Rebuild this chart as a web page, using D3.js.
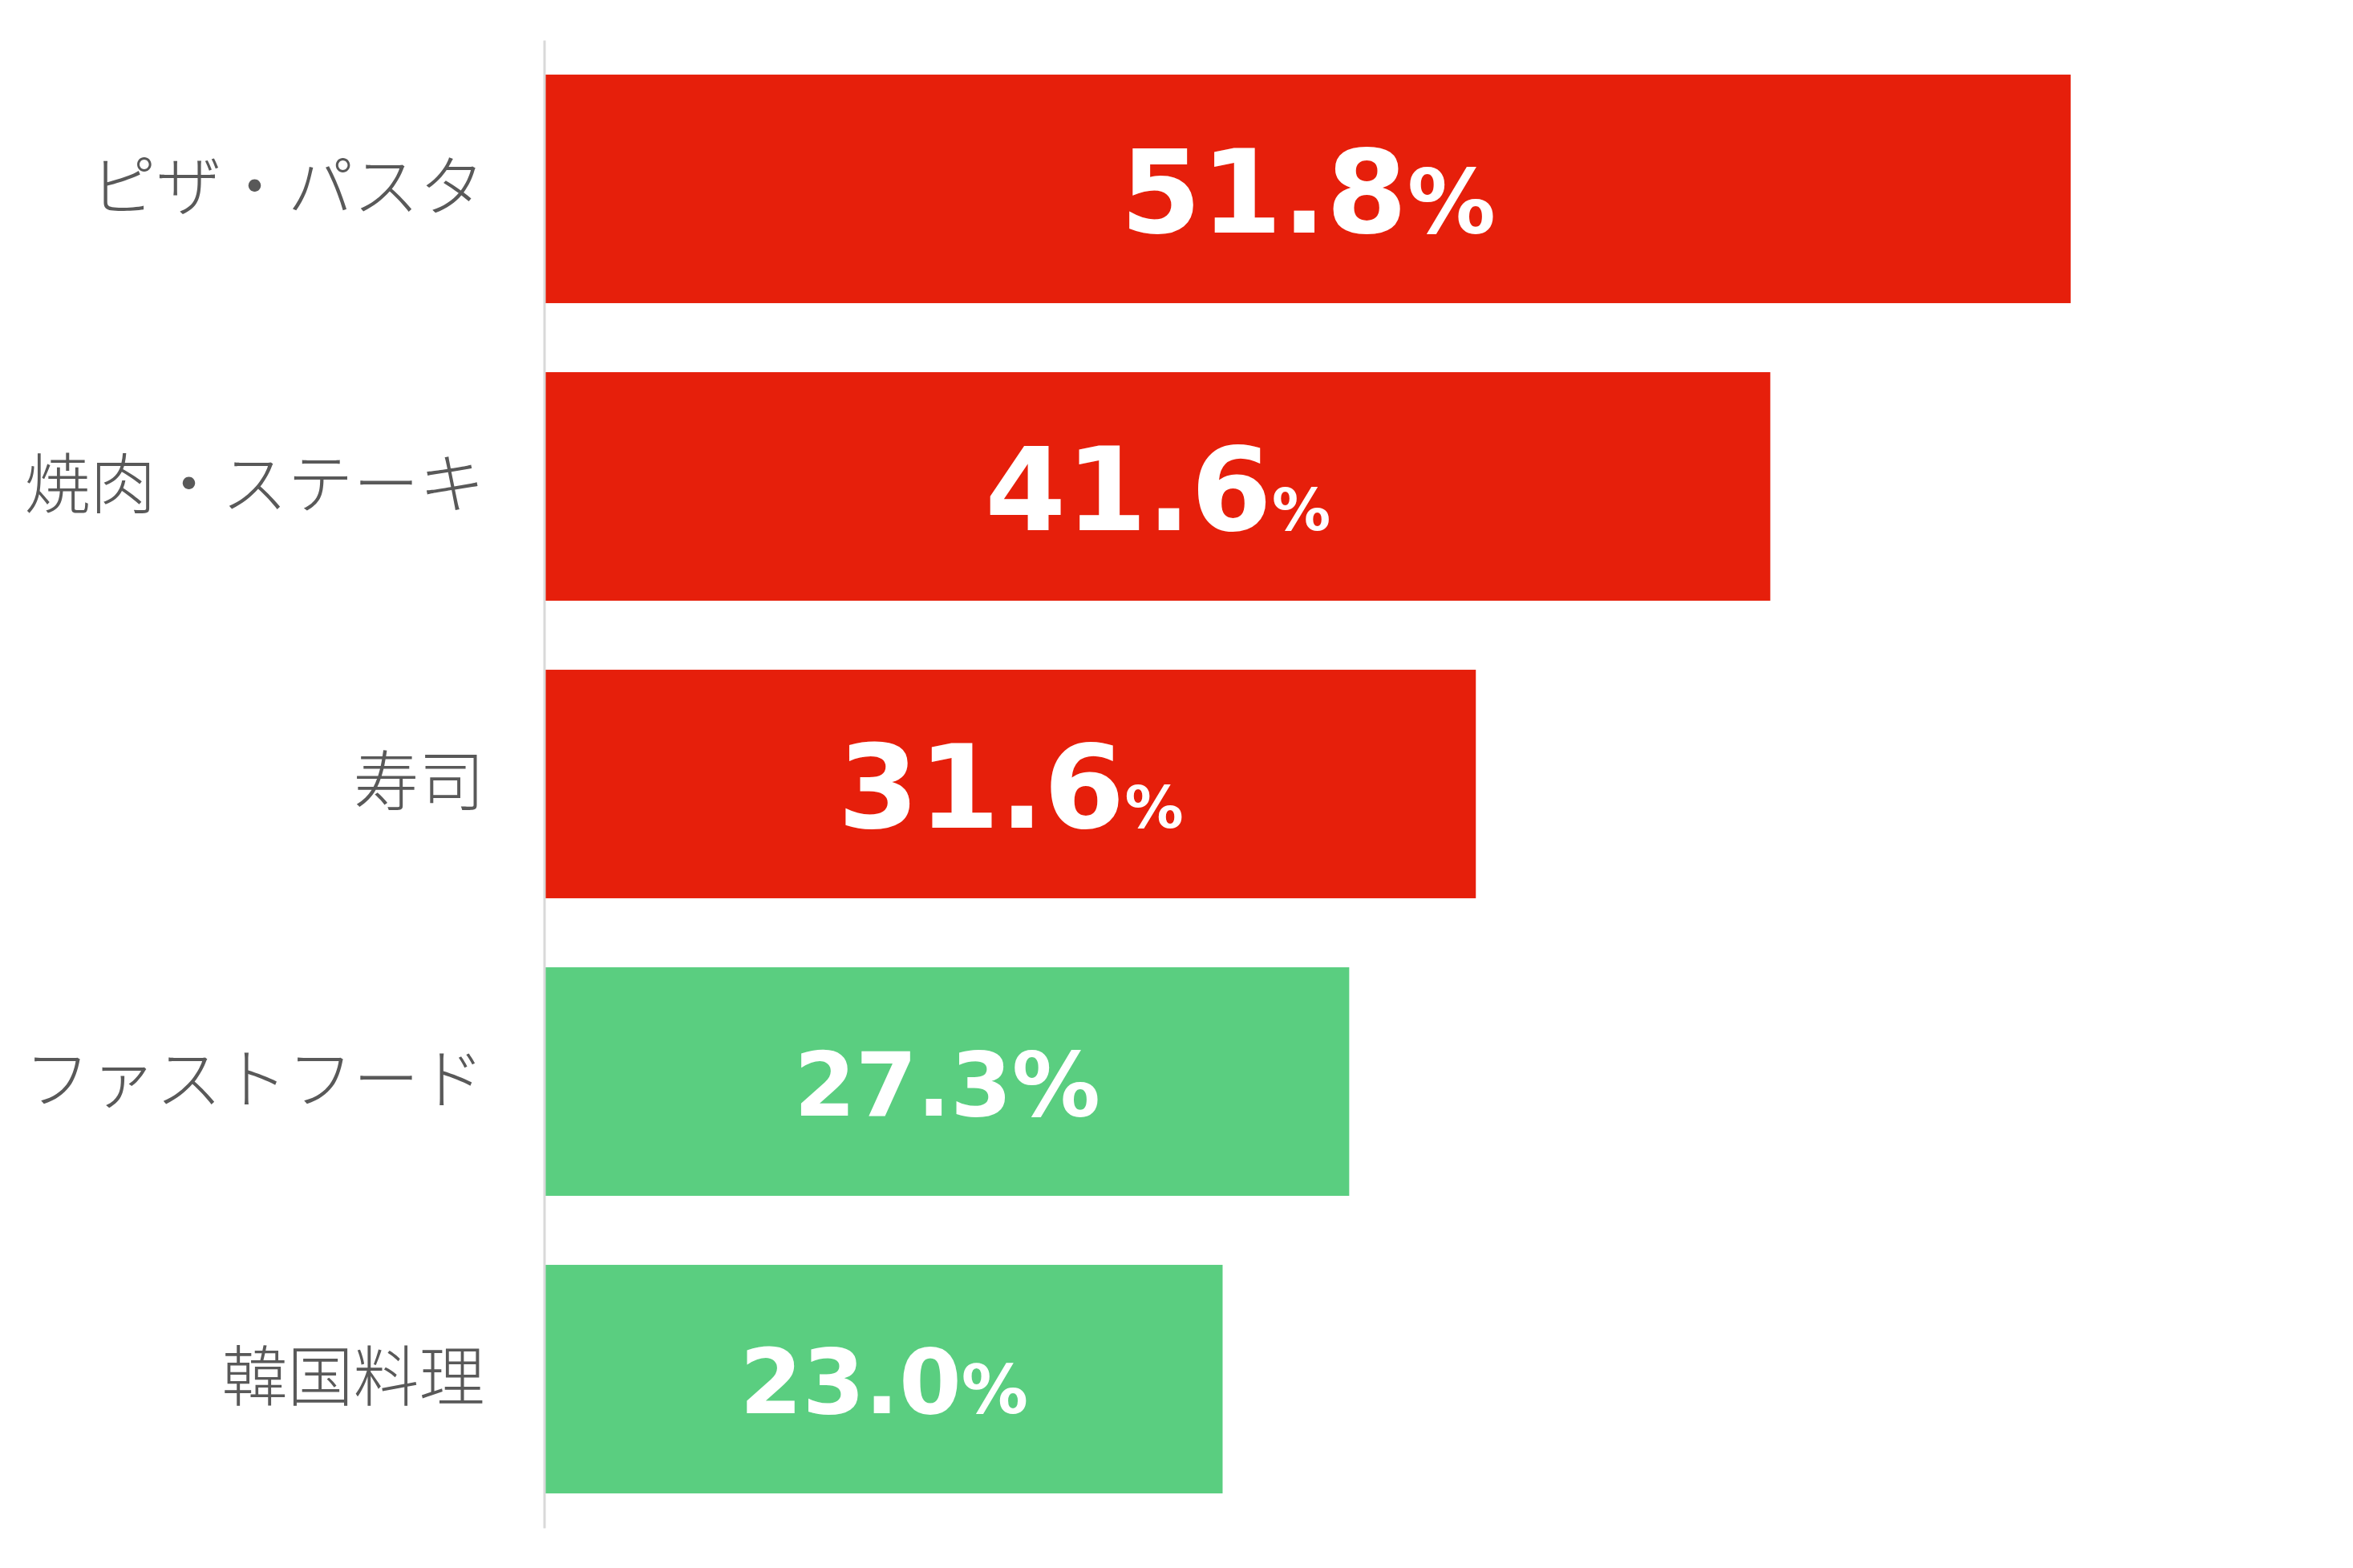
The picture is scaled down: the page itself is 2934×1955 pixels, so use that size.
<!DOCTYPE html>
<html>
<head>
<meta charset="utf-8">
<script src="https://cdn.jsdelivr.net/npm/d3@7"></script>
<style>
  html, body { margin: 0; padding: 0; background: #ffffff; }
  svg { display: block; }
</style>
</head>
<body>
<svg id="chart" width="2934" height="1955"></svg>
<script>
// ---- data ----
const categories = ["ピザ・パスタ", "焼肉・ステーキ", "寿司", "ファストフード", "韓国料理"];
const values = [51.8, 41.6, 31.6, 27.3, 23.0];
const groups = ["top", "top", "top", "other", "other"];

// ---- styles ----
const groupColor = d3.scaleOrdinal().domain(["top", "other"]).range(["#E61F0B", "#5ACE80"]);
// digit / percent font sizes for each value label (as drawn in the reference)
const digitSize = [145, 145, 145, 110, 112];
const pctSize = [110, 73, 73, 110, 83];

const svg = d3.select("#chart");

const x = d3.scaleLinear().domain([0, 60]).range([680, 2883]);
const y = d3.scaleBand().domain(categories).range([50, 1905])
  .paddingInner(0.232).paddingOuter(0.116);

const data = categories.map((c, i) => ({ c, v: values[i], g: groups[i], i }));

// bars
svg.append("g").selectAll("rect").data(data).join("rect")
  .attr("x", x(0))
  .attr("y", d => y(d.c))
  .attr("width", d => x(d.v) - x(0))
  .attr("height", y.bandwidth())
  .attr("fill", d => groupColor(d.g));

// axis (left) with category labels
const yAxis = d3.axisLeft(y).tickSize(0).tickPadding(74);
const ag = svg.append("g").attr("transform", `translate(${x(0) - 1.5},0)`).call(yAxis);
ag.select(".domain").attr("stroke", "#d9d9d9").attr("stroke-width", 3);
ag.selectAll(".tick text")
  .attr("fill", "#595959")
  .attr("font-family", "'Noto Sans CJK JP', 'Noto Sans CJK SC', sans-serif")
  .attr("font-weight", 300)
  .attr("font-size", 82)
  .attr("dy", null)
  .attr("dominant-baseline", null)
  .attr("y", 26);

// value labels
const lab = svg.append("g").selectAll("text").data(data).join("text")
  .attr("x", d => (x(0) + x(d.v)) / 2)
  .attr("y", d => y(d.c) + y.bandwidth() / 2 + digitSize[d.i] * 0.729 / 2 + 2)
  .attr("text-anchor", "middle")
  .attr("fill", "#ffffff")
  .attr("font-family", "'DejaVu Sans', sans-serif")
  .attr("font-weight", "bold");
lab.append("tspan").attr("font-size", d => digitSize[d.i]).text(d => d.v.toFixed(1));
lab.append("tspan").attr("font-size", d => pctSize[d.i]).text("%");
</script>
</body>
</html>
